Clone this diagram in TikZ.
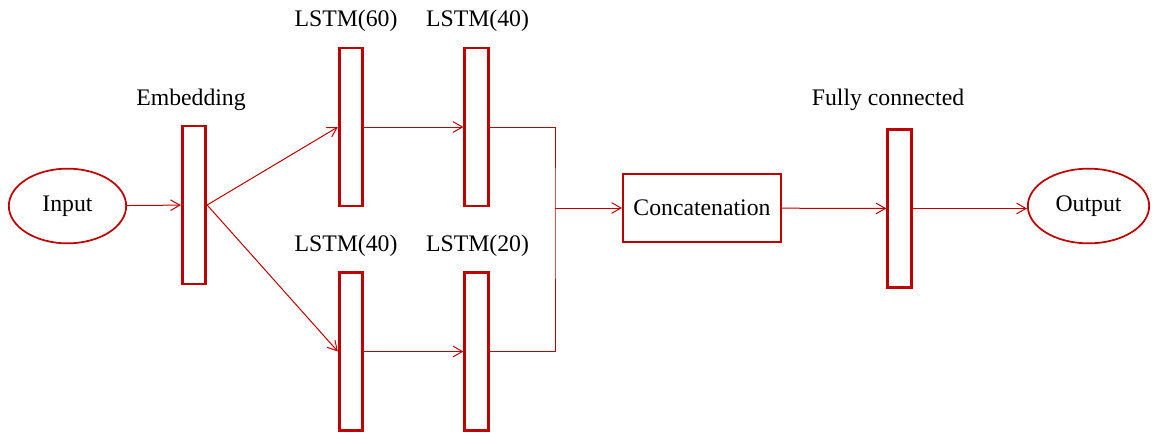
\documentclass[tikz,border=0pt]{standalone}
\usepackage{fontspec}
\setmainfont{Liberation Serif}
\usetikzlibrary{shapes.geometric,arrows.meta}
\definecolor{dred}{RGB}{192,0,0}
\begin{document}
\begin{tikzpicture}[x=0.75pt,y=-0.75pt,
    font=\fontsize{17.8}{21}\selectfont,
    layer/.style={draw=dred,line width=2.2pt,minimum width=17.5pt,minimum height=118.5pt,inner sep=0pt},
    term/.style={ellipse,draw=dred,line width=1.3pt,inner sep=0pt},
    conn/.style={draw=dred,line width=0.75pt,-{Straight Barb[length=7pt,width=8pt]}}]
    \useasboundingbox (0,0) rectangle (1157,443);
    \node[term,minimum width=88pt,minimum height=56pt] (in) at (67.5,206) {Input};
    \node[layer] (e) at (194,205) {};
    \node[layer] (a) at (351,127) {};
    \node[layer] (b) at (476.5,127) {};
    \node[layer] (c) at (351,351.5) {};
    \node[layer] (d) at (476.5,351.5) {};
    \node[draw=dred,line width=1.5pt,minimum width=118.5pt,minimum height=51pt] (k) at (702,208) {Concatenation};
    \node[layer] (f) at (899.5,208.5) {};
    \node[term,minimum width=91pt,minimum height=56pt] (out) at (1088.5,206) {Output};
    \node (le) at (191,100) {Embedding};
    \node (la) at (346,21) {LSTM(60)};
    \node (lb) at (477.5,21) {LSTM(40)};
    \node (lc) at (346,246) {LSTM(40)};
    \node (ld) at (477.5,246) {LSTM(20)};
    \node (lf) at (888,100) {Fully connected};
    \coordinate (m) at (555,208);
    \draw [conn] (in) to (e);
    \draw [conn] (e.east) to (a.west);
    \draw [conn] (e.east) to (c.west);
    \draw [conn] (a) to (b);
    \draw [conn] (c) to (d);
    \draw [draw=dred,line width=0.75pt] (b.east) -| (m) |- (d.east);
    \draw [conn] (m) to (k);
    \draw [conn] (k) to (f);
    \draw [conn] (f.east) to (f.east -| out.west);
  \end{tikzpicture}
\end{document}
